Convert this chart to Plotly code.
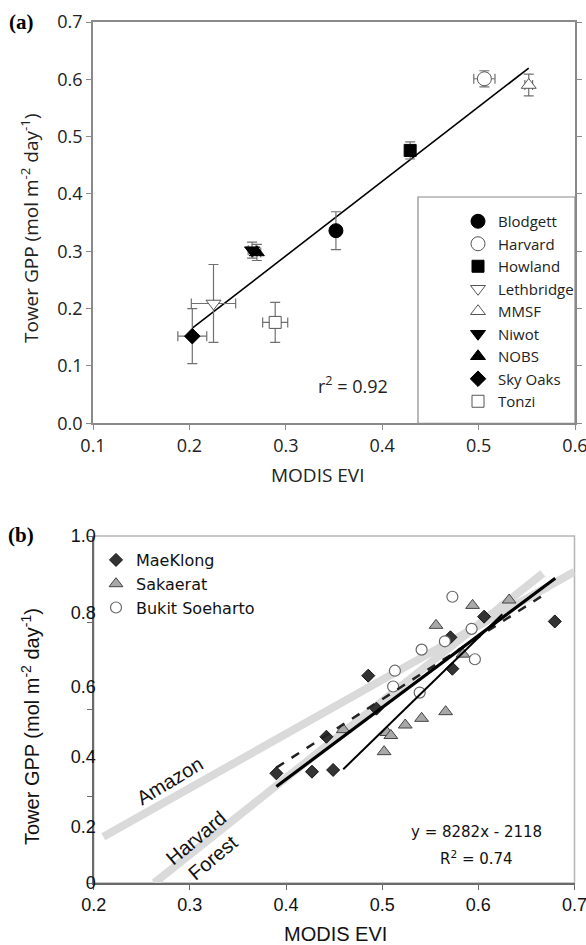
import plotly.graph_objects as go

# ---------------- Panel (a) data ----------------
sites_a = ["Blodgett", "Harvard", "Howland", "Lethbridge", "MMSF", "Niwot", "NOBS", "Sky Oaks", "Tonzi"]
evi_a = [0.352, 0.506, 0.429, 0.225, 0.552, 0.265, 0.270, 0.203, 0.289]
gpp_a = [0.336, 0.601, 0.476, 0.209, 0.590, 0.302, 0.298, 0.152, 0.176]
evi_err_a = [0.0, 0.011, 0.0, 0.023, 0.004, 0.004, 0.004, 0.015, 0.013]
gpp_err_a = [0.033, 0.014, 0.015, 0.068, 0.019, 0.014, 0.014, 0.048, 0.035]
fit_a_x = [0.203, 0.552]
fit_a_slope = 1.30
fit_a_intercept = -0.098
r2_a = "0.92"
xticks_a = [0.1, 0.2, 0.3, 0.4, 0.5, 0.6]
yticks_a = [0.0, 0.1, 0.2, 0.3, 0.4, 0.5, 0.6, 0.7]

# ---------------- Panel (b) data ----------------
maeklong_evi = [0.390, 0.427, 0.449, 0.442, 0.4855, 0.494, 0.571, 0.573, 0.606, 0.6795]
maeklong_gpp = [1264, 1283, 1303, 1686, 2390, 2010, 2832, 2470, 3070, 3015]
sakaerat_evi = [0.4595, 0.502, 0.505, 0.509, 0.524, 0.541, 0.566, 0.556, 0.584, 0.594, 0.632]
sakaerat_gpp = [1768, 1514, 1735, 1700, 1821, 1898, 1975, 2970, 2638, 3200, 3262]
bukit_evi = [0.5114, 0.5132, 0.539, 0.541, 0.5652, 0.573, 0.593, 0.5964]
bukit_gpp = [2265, 2447, 2195, 2690, 2786, 3300, 2930, 2579]
amazon_evi = [0.21, 0.70]
amazon_gpp = [534, 3588]
harvard_evi = [0.263, 0.667]
harvard_gpp = [0, 3570]
fit_all_slope = 8282
fit_all_intercept = -2118
fit_all_x = [0.39, 0.68]
fit_dash_x = [0.39, 0.673]
fit_dash_y = [1330, 3358]
fit_thin_x = [0.4595, 0.625]
fit_thin_y = [1311, 3098]
r2_b = "0.74"
yticks_b = [0, 1000, 2000, 3000, 4000]
ylabel_pos_b = [0, 645, 1452, 2259, 3112, 4000]
ylabel_text_b = ["0", "0.2", "0.4", "0.6", "0.8", "1.0"]
xticks_b = [0.2, 0.3, 0.4, 0.5, 0.6, 0.7]

# ---------------- styles ----------------
W, H = 586, 945
FA = "Open Sans"
FB = "Liberation Sans"
FL = "DejaVu Sans"
style_a = {
    "Blodgett": ("circle", "black", 14),
    "Harvard": ("circle", "white", 14),
    "Howland": ("square", "black", 12),
    "Lethbridge": ("triangle-down", "white", 13),
    "MMSF": ("triangle-up", "white", 13),
    "Niwot": ("triangle-down", "black", 13),
    "NOBS": ("triangle-up", "black", 13),
    "Sky Oaks": ("diamond", "black", 12),
    "Tonzi": ("square", "white", 12),
}

def px_x(p):
    return p / W

def px_y(p):
    return 1 - p / H

fig = go.Figure()

# Panel (a) regression line
fig.add_trace(go.Scatter(
    x=fit_a_x, y=[fit_a_slope * v + fit_a_intercept for v in fit_a_x],
    mode="lines", line=dict(color="black", width=1.6),
    showlegend=False, hoverinfo="skip", xaxis="x", yaxis="y"))

# Panel (a) error bars
for i, s in enumerate(sites_a):
    fig.add_trace(go.Scatter(
        x=[evi_a[i]], y=[gpp_a[i]], mode="markers",
        marker=dict(size=1, color="rgba(0,0,0,0)"),
        error_y=dict(type="data", array=[gpp_err_a[i]], color="#707070", thickness=1.2, width=5),
        error_x=dict(type="data", array=[evi_err_a[i]], color="#707070", thickness=1.2, width=5,
                     visible=evi_err_a[i] > 0),
        showlegend=False, hoverinfo="skip", xaxis="x", yaxis="y"))

# Panel (a) markers
for i, s in enumerate(sites_a):
    sym, fill, size = style_a[s]
    fig.add_trace(go.Scatter(
        x=[evi_a[i]], y=[gpp_a[i]], mode="markers", name=s,
        marker=dict(symbol=sym, color=fill, size=size,
                    line=dict(color="#555555" if fill == "white" else "black", width=1)),
        legend="legend", xaxis="x", yaxis="y"))

# Panel (b) gray reference lines
fig.add_trace(go.Scatter(x=amazon_evi, y=amazon_gpp, mode="lines",
                         line=dict(color="#dadada", width=8), showlegend=False,
                         hoverinfo="skip", xaxis="x2", yaxis="y2"))
fig.add_trace(go.Scatter(x=harvard_evi, y=harvard_gpp, mode="lines",
                         line=dict(color="#dadada", width=8), showlegend=False,
                         hoverinfo="skip", xaxis="x2", yaxis="y2"))

# Panel (b) markers
fig.add_trace(go.Scatter(x=maeklong_evi, y=maeklong_gpp, mode="markers", name="MaeKlong",
                         marker=dict(symbol="diamond", size=10, color="#333333",
                                     line=dict(color="#111111", width=1)),
                         legend="legend2", xaxis="x2", yaxis="y2"))
fig.add_trace(go.Scatter(x=sakaerat_evi, y=sakaerat_gpp, mode="markers", name="Sakaerat",
                         marker=dict(symbol="triangle-up", size=12, color="#a8a8a8",
                                     line=dict(color="#444444", width=1)),
                         legend="legend2", xaxis="x2", yaxis="y2"))
fig.add_trace(go.Scatter(x=bukit_evi, y=bukit_gpp, mode="markers", name="Bukit Soeharto",
                         marker=dict(symbol="circle", size=11, color="white",
                                     line=dict(color="#666666", width=1.2)),
                         legend="legend2", xaxis="x2", yaxis="y2"))

# Panel (b) fit lines
fig.add_trace(go.Scatter(x=fit_dash_x, y=fit_dash_y, mode="lines",
                         line=dict(color="#222222", width=2.5, dash="dash"),
                         showlegend=False, hoverinfo="skip", xaxis="x2", yaxis="y2"))
fig.add_trace(go.Scatter(x=fit_thin_x, y=fit_thin_y, mode="lines",
                         line=dict(color="black", width=2),
                         showlegend=False, hoverinfo="skip", xaxis="x2", yaxis="y2"))
fig.add_trace(go.Scatter(x=fit_all_x, y=[fit_all_slope * v + fit_all_intercept for v in fit_all_x],
                         mode="lines", line=dict(color="black", width=3.2),
                         showlegend=False, hoverinfo="skip", xaxis="x2", yaxis="y2"))
# anchor trace for overlay label axis
fig.add_trace(go.Scatter(x=[xticks_b[0]], y=[0], mode="markers", marker=dict(opacity=0),
                         showlegend=False, hoverinfo="skip", xaxis="x2", yaxis="y3"))

dom_x_a = [px_x(93), px_x(575)]
dom_y_a = [px_y(423.3), px_y(22)]
dom_x_b = [px_x(93.7), px_x(574.5)]
dom_y_b = [px_y(883), px_y(536)]

axis_a = dict(showline=True, linecolor="#8a8a8a", linewidth=1.5, ticks="outside", ticklen=5,
              tickcolor="#8a8a8a", tickwidth=1.2, showgrid=False, zeroline=False,
              ticklabeloverflow="allow", automargin=False,
              tickfont=dict(family=FA, size=18, color="#222222"), tickformat=".1f")
axis_b = dict(showline=True, linecolor="#6a6a6a", linewidth=1.5, ticks="outside", ticklen=5,
              tickcolor="#6a6a6a", tickwidth=1.2, showgrid=False, zeroline=False,
              ticklabeloverflow="allow", automargin=False,
              tickfont=dict(family=FB, size=18, color="#111111"))

def ann(text, x, y, font, angle=0, ref=("paper", "paper")):
    return dict(text=text, x=x, y=y, xref=ref[0], yref=ref[1], xanchor="center",
                yanchor="middle", showarrow=False, textangle=angle, font=font)

fa19 = dict(family=FA, size=19, color="#222222")
fb20 = dict(family=FB, size=20, color="#111111")
fl15 = dict(family=FL, size=15, color="#111111")
serif = dict(family="Liberation Serif", size=21, color="black")

fig.update_layout(
    width=W, height=H, margin=dict(l=0, r=0, t=0, b=0, autoexpand=False),
    paper_bgcolor="white", plot_bgcolor="white",
    xaxis=dict(axis_a, domain=dom_x_a, range=[0.1, 0.6], tickvals=xticks_a, anchor="y", mirror=True),
    yaxis=dict(axis_a, domain=dom_y_a, range=[0, 0.7], tickvals=yticks_a, anchor="x", mirror="ticks"),
    xaxis2=dict(axis_b, domain=dom_x_b, range=[0.2, 0.7], tickvals=xticks_b, tickformat=".1f", anchor="y2"),
    yaxis2=dict(axis_b, domain=dom_y_b, range=[0, 4000], tickvals=yticks_b, showticklabels=False, anchor="x2"),
    yaxis3=dict(overlaying="y2", anchor="x2", side="left", range=[0, 4000],
                tickvals=ylabel_pos_b, ticktext=ylabel_text_b, showline=False, ticks="",
                showgrid=False, zeroline=False, ticklabelstandoff=-3, ticklabeloverflow="allow",
                automargin=False, tickfont=dict(family=FB, size=18, color="#111111")),
    legend=dict(x=px_x(458), y=px_y(205), xanchor="left", yanchor="top",
                font=dict(family=FA, size=15, color="#222222"), bgcolor="rgba(0,0,0,0)",
                borderwidth=0, itemsizing="trace"),
    legend2=dict(x=px_x(96), y=px_y(543), xanchor="left", yanchor="top",
                 font=dict(family=FL, size=16, color="#111111"), bgcolor="rgba(0,0,0,0)",
                 borderwidth=0, itemsizing="trace"),
    shapes=[
        dict(type="rect", xref="paper", yref="paper", x0=px_x(418), x1=px_x(575),
             y0=px_y(423.3), y1=px_y(197), line=dict(color="#8a8a8a", width=1.2), layer="below"),
        dict(type="rect", xref="paper", yref="paper", x0=dom_x_b[0], x1=dom_x_b[1],
             y0=dom_y_b[0], y1=dom_y_b[1], line=dict(color="#b5b5b5", width=1.5), layer="below"),
    ],
    annotations=[
        ann("<b>(a)</b>", px_x(21), px_y(22), serif),
        ann("<b>(b)</b>", px_x(21), px_y(535), serif),
        ann("MODIS EVI", px_x(318), px_y(475), fa19),
        ann("Tower GPP (mol m<sup>-2</sup> day<sup>-1</sup>)", px_x(30), px_y(228), fa19, -90),
        ann("r<sup>2</sup> = " + r2_a, 0.37, 0.067, dict(family=FA, size=18, color="#222222"),
            0, ("x", "y")),
        ann("MODIS EVI", px_x(335), px_y(934), fb20),
        ann("Tower GPP (mol m<sup>-2</sup> day<sup>-1</sup>)", px_x(30), px_y(727), fb20, -90),
        ann("Amazon", 0.2786, 1179, fb20, -31, ("x2", "y2")),
        ann("Harvard<br>Forest", 0.315, 403, fb20, -40, ("x2", "y2")),
        ann("y = %dx - %d" % (fit_all_slope, -fit_all_intercept), 0.598, 591, fl15, 0, ("x2", "y2")),
        ann("R<sup>2</sup> = " + r2_b, 0.598, 285, fl15, 0, ("x2", "y2")),
    ],
)

fig.write_html("out.html")
